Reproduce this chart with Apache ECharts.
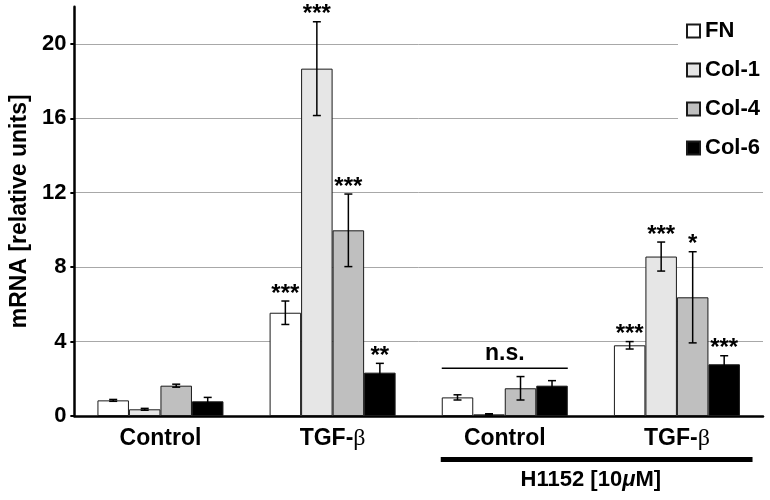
<!DOCTYPE html>
<html><head><meta charset="utf-8">
<script src="https://cdn.jsdelivr.net/npm/echarts@6/dist/echarts.min.js"></script>
<style>html,body{margin:0;padding:0;background:#fff}#c{width:770px;height:500px}</style>
</head><body><div id="c"></div>
<script>
const categories = ['Control', 'TGF-β', 'Control', 'TGF-β'];
const seriesNames = ['FN', 'Col-1', 'Col-4', 'Col-6'];
const fnValues = [0.84, 5.55, 1.00, 3.80];
const fnErrors = [0.05, 0.63, 0.14, 0.20];
const col1Values = [0.36, 18.67, 0.09, 8.57];
const col1Errors = [0.05, 2.52, 0.03, 0.78];
const col4Values = [1.63, 9.98, 1.49, 6.38];
const col4Errors = [0.08, 1.95, 0.63, 2.45];
const col6Values = [0.79, 2.33, 1.63, 2.78];
const col6Errors = [0.21, 0.50, 0.27, 0.46];
const fnStars = ['', '***', '', '***'];
const col1Stars = ['', '***', '', '***'];
const col4Stars = ['', '***', '', '*'];
const col6Stars = ['', '**', '', '***'];
const yTicks = [0, 4, 8, 12, 16, 20];
const yMax = 22;
const nsLabel = 'n.s.';
const nsLevel = 2.56;
const nsCategory = 2;
const treatmentCategories = [2, 3];
const treatmentLabel = 'H1152 [10{mu|μ}M]';
const yAxisTitle = 'mRNA [relative units]';

const FONT = "'Liberation Sans', Arial, Helvetica, sans-serif";
const GAP = 0.268;
const fills = ['#ffffff', '#e6e6e6', '#bfbfbf', '#000000'];
const valueSets = [fnValues, col1Values, col4Values, col6Values];
const errorSets = [fnErrors, col1Errors, col4Errors, col6Errors];
const starSets = [fnStars, col1Stars, col4Stars, col6Stars];

const chart = echarts.init(document.getElementById('c'), null, {renderer: 'canvas'});

const barSeries = seriesNames.map((name, k) => ({
  name: name,
  type: 'bar',
  data: valueSets[k],
  barGap: '0%',
  barCategoryGap: (GAP * 100) + '%',
  itemStyle: {color: fills[k], borderColor: '#1a1a1a', borderWidth: 1},
  emphasis: {disabled: true},
  z: 2
}));

const errSeries = seriesNames.map((name, k) => ({
  type: 'custom',
  name: name + '-err',
  data: valueSets[k].map((v, i) => [i, v, errorSets[k][i]]),
  encode: {x: 0, y: 1},
  z: 5,
  silent: true,
  clip: false,
  renderItem: function (params, api) {
    const ci = api.value(0), v = api.value(1), e = api.value(2);
    const band = api.size([1, 0])[0];
    const barW = band * (1 - GAP) / 4;
    const cx = api.coord([ci, 0])[0] + (k - 1.5) * barW;
    const yTop = api.coord([ci, v + e])[1];
    const yBot = api.coord([ci, v - e])[1];
    const cap = 4;
    const ls = {stroke: '#000', lineWidth: 1.5};
    const children = [
      {type: 'line', shape: {x1: cx, y1: yTop, x2: cx, y2: yBot}, style: ls},
      {type: 'line', shape: {x1: cx - cap, y1: yTop, x2: cx + cap, y2: yTop}, style: ls},
      {type: 'line', shape: {x1: cx - cap, y1: yBot, x2: cx + cap, y2: yBot}, style: ls}
    ];
    const s = starSets[k][params.dataIndex];
    if (s) {
      children.push({type: 'text', style: {text: s, x: cx, y: yTop + 5, align: 'center', verticalAlign: 'bottom',
        font: 'bold 24px ' + FONT, fill: '#000'}});
    }
    return {type: 'group', children: children};
  }
}));

const option = {
  animation: false,
  backgroundColor: '#fff',
  grid: {left: 70, right: 7, top: 6.7, bottom: 84, containLabel: false},
  legend: {
    data: seriesNames,
    orient: 'vertical',
    left: 678, top: 10,
    padding: [10, 10, 20, 8],
    backgroundColor: '#fff',
    itemWidth: 13, itemHeight: 13, itemGap: 17,
    icon: 'rect',
    selectedMode: false,
    textStyle: {fontFamily: FONT, fontWeight: 'bold', fontSize: 22, color: '#000'}
  },
  xAxis: {
    type: 'category',
    data: categories,
    axisLine: {lineStyle: {color: '#000', width: 2.5}},
    axisTick: {show: false},
    axisLabel: {
      margin: 11, color: '#000', fontFamily: FONT, fontWeight: 'bold', fontSize: 23,
      formatter: v => v.replace('β', '{b|β}'),
      rich: {b: {fontFamily: "'Liberation Serif', 'DejaVu Serif', serif", fontWeight: 'normal', fontSize: 24, color: '#000'}}
    }
  },
  yAxis: {
    type: 'value', min: 0, max: yMax, interval: 4,
    name: yAxisTitle, nameLocation: 'middle', nameGap: 42,
    nameTextStyle: {fontFamily: FONT, fontWeight: 'bold', fontSize: 23, color: '#000'},
    axisLine: {show: true, lineStyle: {color: '#000', width: 2.5}},
    axisTick: {show: true, length: 4, lineStyle: {color: '#000', width: 2}, customValues: yTicks},
    axisLabel: {margin: 8, color: '#000', fontFamily: FONT, fontWeight: 'bold', fontSize: 22, customValues: yTicks},
    splitLine: {show: true, showMinLine: false, lineStyle: {color: '#a8a8a8', width: 1}}
  },
  series: barSeries.concat(errSeries)
};
chart.setOption(option);

// annotations positioned through the axes
const p0 = chart.convertToPixel({gridIndex: 0}, [nsCategory, nsLevel]);
const pNext = chart.convertToPixel({gridIndex: 0}, [nsCategory + 1, 0]);
const band = pNext[0] - p0[0];
const barW = band * (1 - GAP) / 4;
const half = 2 * barW;
const a0 = chart.convertToPixel({gridIndex: 0}, [treatmentCategories[0], 0]);
const a1 = chart.convertToPixel({gridIndex: 0}, [treatmentCategories[1], 0]);
chart.setOption({
  graphic: [
    {type: 'line', shape: {x1: p0[0] - half, y1: p0[1], x2: p0[0] + half, y2: p0[1]}, style: {stroke: '#000', lineWidth: 1.5}, z: 10},
    {type: 'text', x: p0[0], y: p0[1] - 3, style: {text: nsLabel, align: 'center', verticalAlign: 'bottom', font: 'bold 23px ' + FONT, fill: '#000'}, z: 10},
    {type: 'rect', shape: {x: a0[0] - half - 1, y: a0[1] + 41, width: (a1[0] + half + 0.4 * barW) - (a0[0] - half - 1), height: 5}, style: {fill: '#000'}, z: 10},
    {type: 'text', x: (a0[0] + a1[0]) / 2, y: a0[1] + 64, style: {text: treatmentLabel, align: 'center', verticalAlign: 'middle', font: 'bold 22px ' + FONT, fill: '#000',
      rich: {mu: {fontStyle: 'italic', fontWeight: 'bold', fontSize: 22, fontFamily: FONT, fill: '#000'}}}, z: 10}
  ]
});
</script>
</body></html>
